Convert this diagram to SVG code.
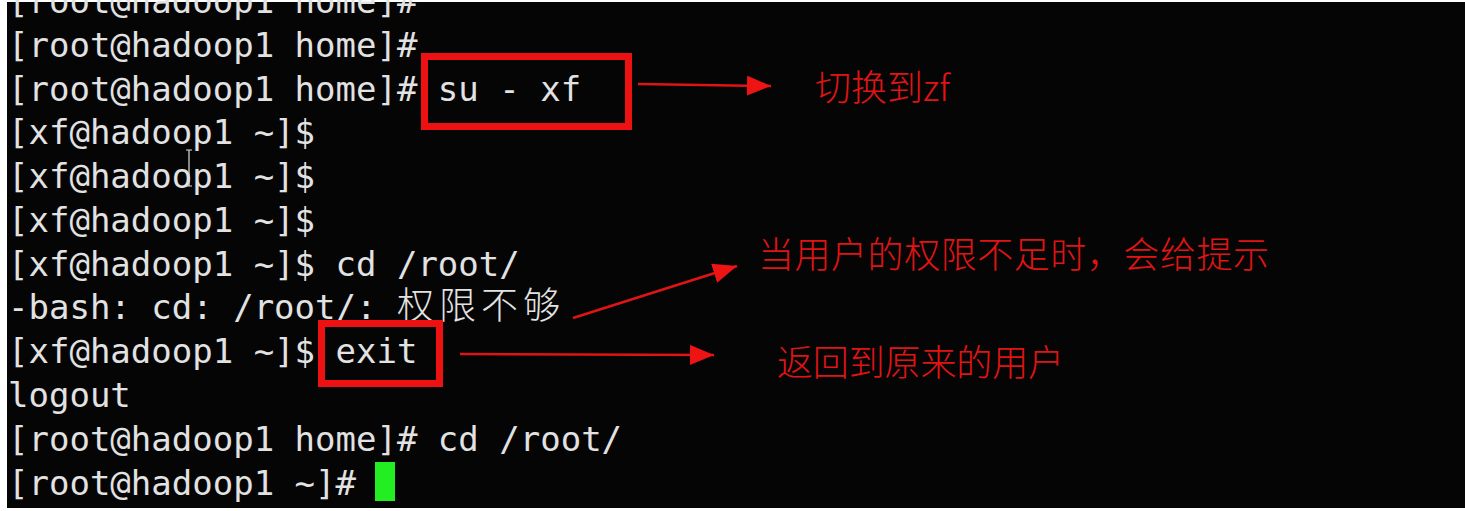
<svg xmlns="http://www.w3.org/2000/svg" width="1465" height="511" viewBox="0 0 1465 511">
<style>
.t{font-family:"DejaVu Sans Mono","Liberation Mono","Noto Sans CJK SC",monospace;font-size:34px;fill:#e2e2e2;white-space:pre}
.cj{font-family:"Noto Sans CJK SC",sans-serif;font-size:37px;font-weight:300}
.lbl{font-family:"Noto Sans CJK SC",sans-serif;font-size:36px;font-weight:300;fill:#e01414}
.box{fill:none;stroke:#ee1111;stroke-width:7}
.arr{stroke:#e01414;stroke-width:2.5;fill:none;marker-end:url(#ah)}
</style>
<defs>
<marker id="ah" markerUnits="userSpaceOnUse" markerWidth="26" markerHeight="20" refX="24" refY="10" orient="auto">
<path d="M0,0 L24,10 L0,20 Z" fill="#ee1414"/>
</marker>
</defs>
<rect x="0" y="0" width="1465" height="511" fill="#ffffff"/>
<rect x="7" y="2" width="1458" height="506" fill="#050505"/>
<g id="terminal">
<text class="t" x="8" y="13">[root@hadoop1 home]#</text>
<text class="t" x="8" y="57">[root@hadoop1 home]#</text>
<text class="t" x="8" y="101">[root@hadoop1 home]# su - xf</text>
<text class="t" x="8" y="144">[xf@hadoop1 ~]$</text>
<text class="t" x="8" y="188">[xf@hadoop1 ~]$</text>
<text class="t" x="8" y="232">[xf@hadoop1 ~]$</text>
<text class="t" x="8" y="276">[xf@hadoop1 ~]$ cd /root/</text>
<text class="t" x="8" y="319">-bash: cd: /root/: <tspan class="cj" x="397" textLength="163" lengthAdjust="spacing">权限不够</tspan></text>
<text class="t" x="8" y="363">[xf@hadoop1 ~]$ exit</text>
<text class="t" x="8" y="407">logout</text>
<text class="t" x="8" y="451">[root@hadoop1 home]# cd /root/</text>
<text class="t" x="8" y="495">[root@hadoop1 ~]#</text>
<rect id="cursor" x="375" y="462" width="20" height="39" fill="#22ee22"/>
<path id="ibeam" d="M189,150 V186 M186,150 H192 M186,186 H192" stroke="#dddddd" stroke-width="1.2" fill="none"/>
</g>
<g id="box-su"><rect class="box" x="424.5" y="56.5" width="204" height="70"/></g>
<g id="box-exit"><rect class="box" x="321.5" y="323.5" width="118" height="60"/></g>
<g id="label-switch"><text class="lbl" x="815" y="101">切换到zf</text></g>
<g id="label-perm"><text class="lbl" x="758" y="268" textLength="511" lengthAdjust="spacing">当用户的权限不足时，会给提示</text></g>
<g id="label-return"><text class="lbl" x="777" y="376" textLength="287" lengthAdjust="spacing">返回到原来的用户</text></g>
<g id="connectors">
<line class="arr" x1="638" y1="84" x2="771" y2="86"/>
<line class="arr" x1="573" y1="318" x2="737" y2="266"/>
<line class="arr" x1="460" y1="354" x2="714" y2="355"/>
</g>
</svg>
